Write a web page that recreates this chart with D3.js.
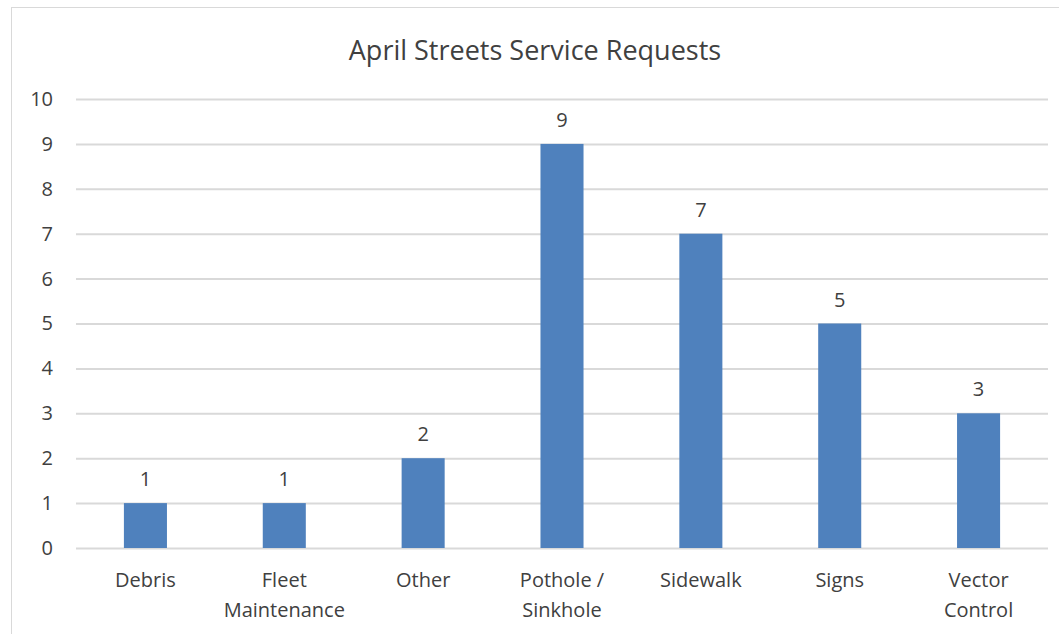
<!DOCTYPE html>
<html><head><meta charset="utf-8">
<script src="https://cdn.jsdelivr.net/npm/d3@7"></script>
<style>body{margin:0;background:#fff;} svg{display:block;}</style>
</head><body>
<svg id="c" width="1059" height="634"></svg>
<script>
const categories = ["Debris", "Fleet Maintenance", "Other", "Pothole / Sinkhole", "Sidewalk", "Signs", "Vector Control"];
const labelLines = [["Debris"], ["Fleet", "Maintenance"], ["Other"], ["Pothole /", "Sinkhole"], ["Sidewalk"], ["Signs"], ["Vector", "Control"]];
const values = [1, 1, 2, 9, 7, 5, 3];
const yTicks = [0, 1, 2, 3, 4, 5, 6, 7, 8, 9, 10];
const chartTitle = "April Streets Service Requests";

(function() {
const svg = d3.select("#c");
const font = "'Open Sans', sans-serif";
const textColor = "#404040";

svg.append("rect").attr("x", 11.5).attr("y", 7.5).attr("width", 1100).attr("height", 700)
  .attr("fill", "#fff").attr("stroke", "#d9d9d9").attr("stroke-width", 1);

const mLeft = 76, mRight = 1048, mTop = 99, mBottom = 548;
const x = d3.scaleBand().domain(categories).range([mLeft, mRight]).paddingInner(0.69).paddingOuter(0.345);
const y = d3.scaleLinear().domain([0, 10]).range([mBottom, mTop]);

svg.append("text").attr("x", 535).attr("y", 60).attr("text-anchor", "middle")
  .attr("font-family", font).attr("font-size", 27).attr("fill", textColor).text(chartTitle);

const yAxis = svg.append("g").attr("transform", `translate(${mLeft},0)`)
  .call(d3.axisLeft(y).tickValues(yTicks).tickSize(-(mRight - mLeft)).tickPadding(23).tickFormat(d3.format("d")));
yAxis.select(".domain").remove();
yAxis.selectAll(".tick line").attr("stroke", "#d9d9d9").attr("stroke-width", 2);
yAxis.selectAll(".tick text").attr("font-family", font).attr("font-size", 20).attr("fill", textColor);

svg.selectAll("rect.bar").data(values).enter().append("rect").attr("class", "bar")
  .attr("x", (d, i) => x(categories[i])).attr("width", x.bandwidth())
  .attr("y", d => y(d)).attr("height", d => y(0) - y(d)).attr("fill", "#4f81bd");

svg.selectAll("text.val").data(values).enter().append("text").attr("class", "val")
  .attr("x", (d, i) => x(categories[i]) + x.bandwidth() / 2).attr("y", d => y(d) - 17)
  .attr("text-anchor", "middle").attr("font-family", font).attr("font-size", 20).attr("fill", textColor)
  .text(d => d);

const xl = svg.selectAll("text.cat").data(categories).enter().append("text").attr("class", "cat")
  .attr("x", d => x(d) + x.bandwidth() / 2).attr("y", 587)
  .attr("text-anchor", "middle").attr("font-family", font).attr("font-size", 20).attr("fill", textColor);
xl.each(function(d, i) {
  const t = d3.select(this);
  labelLines[i].forEach((ln, j) => {
    t.append("tspan").attr("x", x(d) + x.bandwidth() / 2).attr("dy", j === 0 ? 0 : 30).text(ln);
  });
});
})();
</script>
</body></html>
